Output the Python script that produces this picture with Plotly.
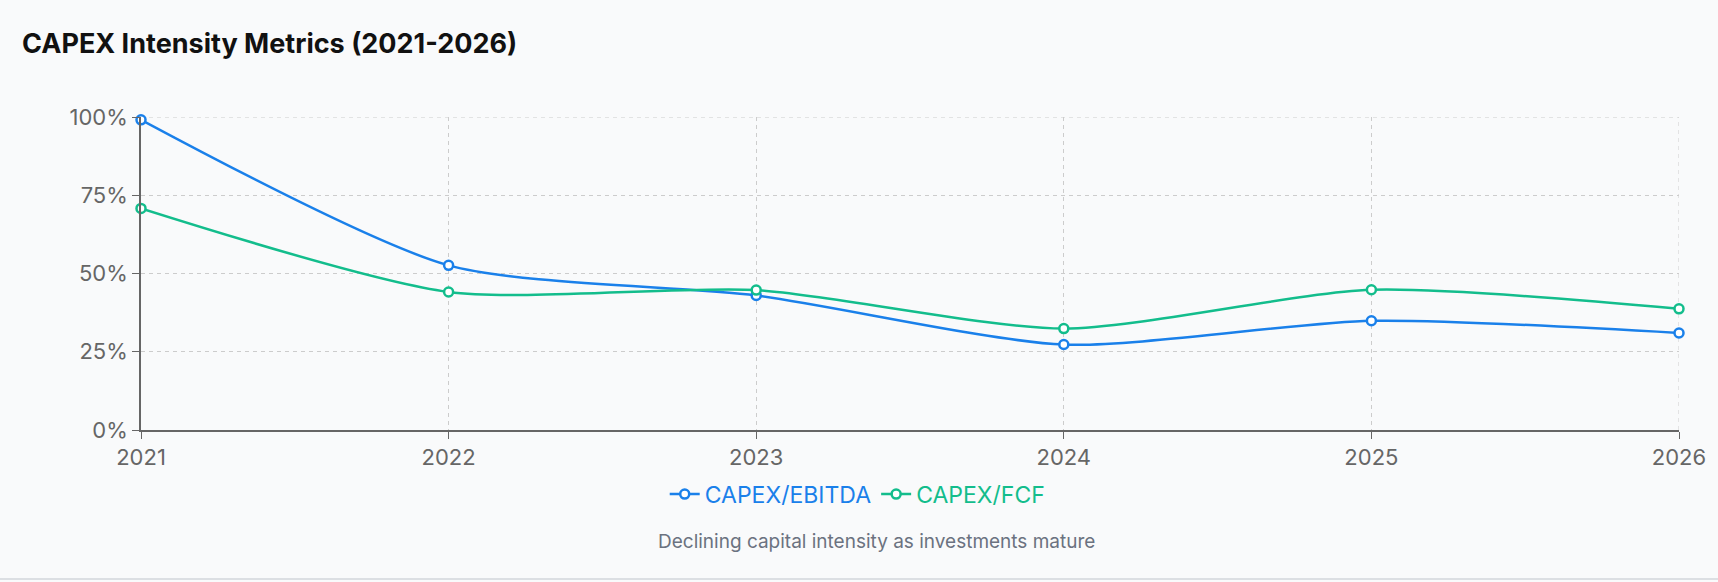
import plotly.graph_objects as go

# ============================================================
# DADOS
# ============================================================
anos = [2021, 2022, 2023, 2024, 2025, 2026]
capex_ebitda = [0.991, 0.526, 0.430, 0.273, 0.349, 0.310]
capex_fcf = [0.708, 0.441, 0.447, 0.324, 0.448, 0.387]
y_ticks = [0, 0.25, 0.5, 0.75, 1.0]

AZUL = '#1a80ea'
VERDE = '#13bd8c'
GRADE = '#cccccc'
FONTE = 'Inter, Roboto, sans-serif'

# ============================================================
# GRAFICO
# ============================================================
fig = go.Figure()

for nome, vals, cor in [('CAPEX/EBITDA', capex_ebitda, AZUL), ('CAPEX/FCF', capex_fcf, VERDE)]:
    fig.add_trace(go.Scatter(
        x=anos, y=vals, name=f"<span style='color:{cor}'>{nome}</span>",
        mode='lines+markers',
        line=dict(color=cor, width=2.5, shape='spline', smoothing=0.7),
        marker=dict(symbol='circle', size=9, color='white', line=dict(color=cor, width=2.5)),
        cliponaxis=False,
    ))

fig.update_layout(
    width=1718, height=582,
    paper_bgcolor='#f9fafb', plot_bgcolor='#f9fafb',
    margin=dict(l=141, r=36, t=117, b=152),
    font=dict(family=FONTE, color='#666'),
    title=dict(text='<b>CAPEX Intensity Metrics (2021-2026)</b>',
               x=22 / 1718, xanchor='left', y=1 - 44 / 582, yanchor='middle',
               font=dict(size=27, color='#111')),
    showlegend=True,
    legend=dict(orientation='h', x=0.466, xanchor='center', y=-0.205, yanchor='middle',
                font=dict(size=23), bgcolor='rgba(0,0,0,0)', itemwidth=30),
)

fig.update_xaxes(
    range=[2021, 2026], tickmode='array', tickvals=anos, ticktext=[str(a) for a in anos],
    showgrid=True, gridcolor=GRADE, griddash='4px,4px', gridwidth=1,
    showline=True, linecolor='#666', linewidth=1.5,
    ticks='outside', ticklen=7, tickcolor='#666',
    tickfont=dict(size=22, color='#666'), zeroline=False,
)
fig.update_yaxes(
    range=[0, 1], tickmode='array', tickvals=y_ticks, tickformat='.0%',
    showgrid=True, gridcolor=GRADE, griddash='4px,4px', gridwidth=1,
    showline=True, linecolor='#666', linewidth=1.5,
    ticks='outside', ticklen=7, tickcolor='#666',
    tickfont=dict(size=22, color='#666'), zeroline=False,
)

# linhas de grade nas bordas (topo e direita), que o plotly omite
fig.add_shape(type='line', xref='paper', yref='y', x0=0, x1=1, y0=y_ticks[-1], y1=y_ticks[-1],
              line=dict(color=GRADE, width=1, dash='4px,4px'), layer='below')
fig.add_shape(type='line', xref='x', yref='paper', x0=anos[-1], x1=anos[-1], y0=0, y1=1,
              line=dict(color=GRADE, width=1, dash='4px,4px'), layer='below')

fig.add_annotation(
    text='Declining capital intensity as investments mature',
    xref='paper', yref='paper', x=0.478, y=-0.355, xanchor='center', yanchor='middle',
    showarrow=False, font=dict(size=19, color='#6b7280'),
)

# borda inferior do card
fig.add_shape(type='line', xref='paper', yref='paper', x0=-0.1, x1=1.1,
              y0=-(579 - 430) / 313, y1=-(579 - 430) / 313,
              line=dict(color='#dcdfe3', width=2))

fig.write_html('out.html', config={'displayModeBar': False},
               post_script="document.body.style.margin='0';")
